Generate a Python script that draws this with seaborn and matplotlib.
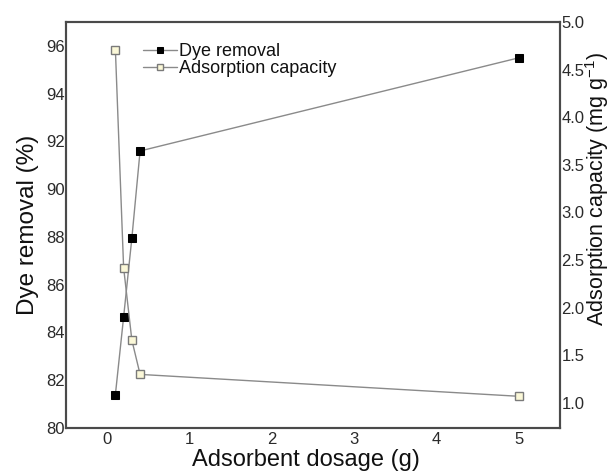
import matplotlib
matplotlib.use("Agg")
import matplotlib.pyplot as plt
import seaborn as sns
import pandas as pd

# Measured data
dosage = [0.1, 0.2, 0.3, 0.4, 5.0]
dye_removal = [81.4, 84.65, 87.95, 91.6, 95.5]
adsorption_capacity = [4.71, 2.42, 1.66, 1.30, 1.07]

x_ticks = [0, 1, 2, 3, 4, 5]
left_ticks = [80, 82, 84, 86, 88, 90, 92, 94, 96]
right_ticks = [1.0, 1.5, 2.0, 2.5, 3.0, 3.5, 4.0, 4.5, 5.0]

sns.set_style("white")
plt.rcParams["font.family"] = ["Liberation Sans", "DejaVu Sans"]
plt.rcParams["mathtext.fontset"] = "custom"
plt.rcParams["mathtext.rm"] = "Liberation Sans"

df = pd.DataFrame({"dosage": dosage, "removal": dye_removal, "capacity": adsorption_capacity})

fig = plt.figure(figsize=(6.11, 4.76), dpi=100)
ax = fig.add_axes([0.108, 0.1008, 0.8085, 0.853])
ax2 = ax.twinx()

line_col = "#8a8a8a"
sns.lineplot(data=df, x="dosage", y="removal", ax=ax, color=line_col, lw=1.0,
             marker="s", markersize=5.8, markerfacecolor="black",
             markeredgecolor="black", label="Dye removal", legend=False)
sns.lineplot(data=df, x="dosage", y="capacity", ax=ax2, color=line_col, lw=1.0,
             marker="s", markersize=5.8, markerfacecolor="#fbf8d8",
             markeredgecolor="#7a7a7a", markeredgewidth=1.0,
             label="Adsorption capacity", legend=False)

ax.set_xlim(-0.5, 5.5)
ax.set_ylim(80, 97)
ax2.set_ylim(0.737, 5.0)
ax.set_xticks(x_ticks)
ax.set_yticks(left_ticks)
ax2.set_yticks(right_ticks)
ax2.set_yticklabels([f"{v:.1f}" for v in right_ticks])

tick_col = "#2a2a2a"
for a in (ax, ax2):
    a.tick_params(length=0, pad=1, labelsize=12, labelcolor=tick_col)
    for s in a.spines.values():
        s.set_color("#4a4a4a")
        s.set_linewidth(1.5)
ax.tick_params(axis="x", pad=3)

ax.set_xlabel("Adsorbent dosage (g)", fontsize=17, color="#111111")
ax.xaxis.set_label_coords(0.485, -0.052)
ax.set_ylabel("Dye removal (%)", fontsize=17.5, color="#111111", labelpad=5)
ax2.set_ylabel("Adsorption capacity (mg g$^{-1}$)", fontsize=15.5, color="#111111")
ax2.yaxis.set_label_coords(1.047, 0.589)

h1, l1 = ax.get_legend_handles_labels()
h2, l2 = ax2.get_legend_handles_labels()
leg = ax.legend(h1 + h2, l1 + l2, loc="upper left", bbox_to_anchor=(0.141, 0.965),
                frameon=False, fontsize=13, handlelength=1.9, handletextpad=0.1,
                labelspacing=0.0, borderaxespad=0, markerscale=0.75)
for t in leg.get_texts():
    t.set_color("#111111")

fig.savefig("out.png", dpi=100)
